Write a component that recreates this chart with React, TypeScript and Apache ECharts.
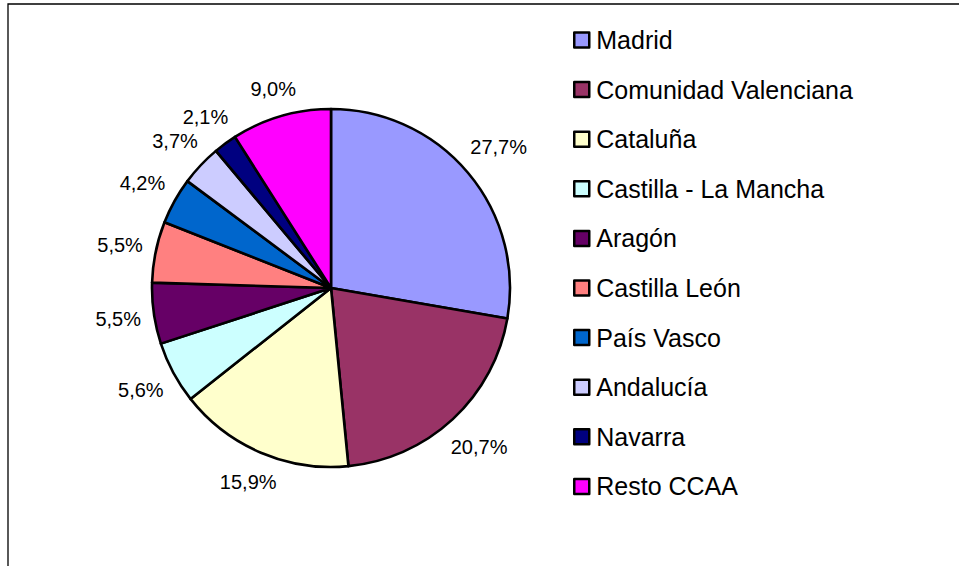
import React, { useEffect, useRef } from "react";
import * as echarts from "echarts";

const categories = [
  "Madrid",
  "Comunidad Valenciana",
  "Cataluña",
  "Castilla - La Mancha",
  "Aragón",
  "Castilla León",
  "País Vasco",
  "Andalucía",
  "Navarra",
  "Resto CCAA",
];
const values = [27.7, 20.7, 15.9, 5.6, 5.5, 5.5, 4.2, 3.7, 2.1, 9.0];
const colors = [
  "#9999FF",
  "#993366",
  "#FFFFCC",
  "#CCFFFF",
  "#660066",
  "#FF8080",
  "#0066CC",
  "#CCCCFF",
  "#000080",
  "#FF00FF",
];

const CX = 331;
const CY = 288;
const R = 179;
const GAP = 12;

export default function App() {
  const ref = useRef<HTMLDivElement>(null);
  useEffect(() => {
    if (!ref.current) return;
    const chart = echarts.init(ref.current, null, { renderer: "svg" });
    const total = values.reduce((a, b) => a + b, 0);
    const mids: number[] = [];
    let acc = 0;
    values.forEach((v) => {
      mids.push(((acc + v / 2) / total) * Math.PI * 2);
      acc += v;
    });
    chart.setOption({
      animation: false,
      backgroundColor: "#ffffff",
      color: colors,
      graphic: [
        {
          type: "rect",
          shape: { x: 8, y: 4, width: 1200, height: 1000 },
          style: { fill: "none", stroke: "#000", lineWidth: 1.3 },
          silent: true,
          z: -1,
        },
      ],
      legend: {
        orient: "vertical",
        left: 573,
        top: 27,
        padding: 0,
        itemGap: 23.6,
        itemWidth: 15,
        itemHeight: 15,
        icon: "rect",
        itemStyle: { borderColor: "#000", borderWidth: 2.5 },
        textStyle: {
          fontFamily: "Liberation Sans, Arial, sans-serif",
          fontSize: 25,
          lineHeight: 26,
          color: "#000",
          padding: [0, 0, 0, 2],
        },
        data: categories,
      },
      series: [
        {
          type: "pie",
          center: [CX, CY],
          radius: R,
          startAngle: 90,
          clockwise: true,
          avoidLabelOverlap: false,
          itemStyle: { borderColor: "#000", borderWidth: 2.6 },
          emphasis: { disabled: true },
          label: {
            show: true,
            position: "outside",
            fontFamily: "Liberation Sans, Arial, sans-serif",
            fontSize: 20,
            color: "#000",
            formatter: (p: any) => p.value.toFixed(1).replace(".", ",") + "%",
          },
          labelLine: { show: false },
          labelLayout: (p: any) => {
            const th = mids[p.dataIndex];
            const w = p.labelRect.width;
            const h = p.labelRect.height;
            const s = Math.sin(th);
            const c = Math.cos(th);
            const d = R + GAP + (w / 2) * Math.abs(s) + (h / 2) * Math.abs(c);
            return {
              x: CX + d * s,
              y: CY - d * c,
              align: "center",
              verticalAlign: "middle",
            };
          },
          data: categories.map((name, i) => ({ name, value: values[i] })),
        },
      ],
    });
    return () => chart.dispose();
  }, []);
  return (
    <div
      ref={ref}
      style={{ position: "fixed", left: 0, top: 0, width: 959, height: 566 }}
    />
  );
}
